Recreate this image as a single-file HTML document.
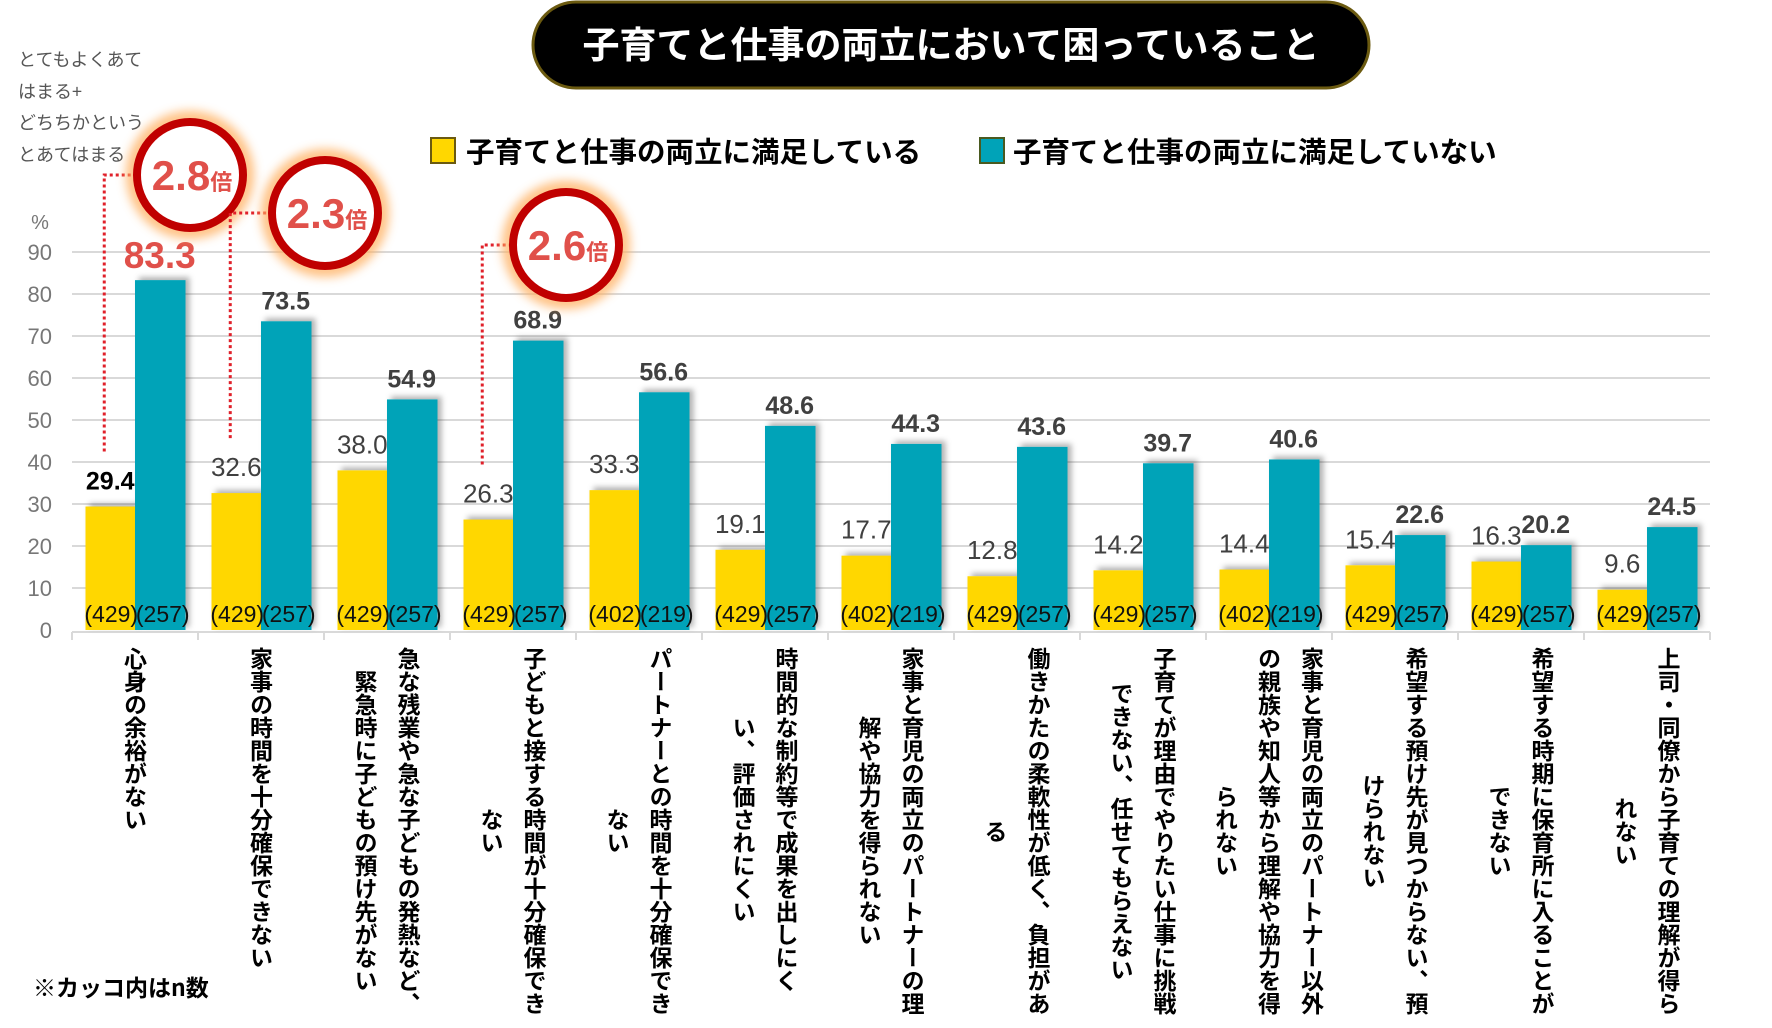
<!DOCTYPE html>
<html><head><meta charset="utf-8">
<style>
html,body{margin:0;padding:0;background:#fff;}
body{width:1772px;height:1028px;position:relative;overflow:hidden;font-family:"Liberation Sans","Noto Sans CJK JP",sans-serif;}
.cat{position:absolute;top:647px;writing-mode:vertical-rl;font-family:"Noto Sans CJK JP",sans-serif;font-weight:bold;font-size:23px;line-height:43px;text-align:center;color:#000;white-space:nowrap;}
</style></head>
<body>
<svg id="chart" width="1772" height="1028" xmlns="http://www.w3.org/2000/svg" style="position:absolute;left:0;top:0">
<defs>
<filter id="sh" x="-20%" y="-20%" width="150%" height="130%"><feDropShadow dx="4" dy="-3" stdDeviation="3" flood-color="#000" flood-opacity="0.3"/></filter>
<filter id="glow" x="-40%" y="-40%" width="180%" height="180%"><feGaussianBlur stdDeviation="5"/></filter>
</defs>
<rect x="533" y="2" width="836" height="86" rx="43" fill="#000" stroke="#6b5a10" stroke-width="3"/>
<text x="951" y="58" text-anchor="middle" fill="#fff" font-family="Noto Sans CJK JP,sans-serif" font-weight="bold" font-size="37">子育てと仕事の両立において困っていること</text>
<g fill="#555" font-family="Noto Sans CJK JP,sans-serif" font-size="18">
<text x="18" y="66">とてもよくあて</text><text x="18" y="98">はまる+</text><text x="18" y="129">どちちかという</text><text x="18" y="161">とあてはまる</text>
</g>
<rect x="431" y="138" width="24" height="25" fill="#ffd700" stroke="#6b5a10" stroke-width="2"/>
<text x="466" y="162" font-family="Noto Sans CJK JP,sans-serif" font-weight="bold" font-size="28.5" fill="#000">子育てと仕事の両立に満足している</text>
<rect x="980" y="138" width="24" height="25" fill="#00a3b8" stroke="#4a5a20" stroke-width="2"/>
<text x="1013" y="162" font-family="Noto Sans CJK JP,sans-serif" font-weight="bold" font-size="28.5" fill="#000">子育てと仕事の両立に満足していない</text>
<text x="40" y="229" text-anchor="middle" fill="#777" font-size="20">%</text>
<g id="grid"></g><g id="bars"></g><g id="labels"></g><g id="annot"></g>
<text x="33" y="996" font-family="Noto Sans CJK JP,sans-serif" font-weight="bold" font-size="23" fill="#000">※カッコ内はn数</text>
</svg>
<div id="cats"></div>
<script>
const categories=[["心身の余裕がない"],["家事の時間を十分確保できない"],["急な残業や急な子どもの発熱など、","緊急時に子どもの預け先がない"],["子どもと接する時間が十分確保でき","ない"],["パートナーとの時間を十分確保でき","ない"],["時間的な制約等で成果を出しにく","い、評価されにくい"],["家事と育児の両立のパートナーの理","解や協力を得られない"],["働きかたの柔軟性が低く、負担があ","る"],["子育てが理由でやりたい仕事に挑戦","できない、任せてもらえない"],["家事と育児の両立のパートナー以外","の親族や知人等から理解や協力を得","られない"],["希望する預け先が見つからない、預","けられない"],["希望する時期に保育所に入ることが","できない"],["上司・同僚から子育ての理解が得ら","れない"]];
const satisfied=[29.4,32.6,38.0,26.3,33.3,19.1,17.7,12.8,14.2,14.4,15.4,16.3,9.6];
const unsatisfied=[83.3,73.5,54.9,68.9,56.6,48.6,44.3,43.6,39.7,40.6,22.6,20.2,24.5];
const nSatisfied=[429,429,429,429,402,429,402,429,429,402,429,429,429];
const nUnsatisfied=[257,257,257,257,219,257,219,257,257,219,257,257,257];
const yTicks=[0,10,20,30,40,50,60,70,80,90];
const ratioCats=[0,1,3];
const ratioLabels=["2.8","2.3","2.6"];

const X0=72,CW=126,Y0=630,PX=4.2,BW=49.5;
const y=v=>Y0-v*PX;
const cx=i=>X0+CW*i+CW/2;
const NS="http://www.w3.org/2000/svg";
function mk(tag,attrs,parent,txt){const e=document.createElementNS(NS,tag);for(const k in attrs)e.setAttribute(k,attrs[k]);if(txt!=null)e.textContent=txt;parent.appendChild(e);return e;}
const grid=document.getElementById('grid'),bars=document.getElementById('bars'),labels=document.getElementById('labels'),annot=document.getElementById('annot');
const XE=X0+CW*categories.length;
yTicks.forEach(t=>{
  if(t>0){const l=mk('line',{x1:X0,x2:XE,y1:y(t),y2:y(t),stroke:'#d9d9d9','stroke-width':2},grid);
  
  }
  const tx=mk('text',{x:52,y:y(t)+8,'text-anchor':'end',fill:'#777','font-size':22},grid,String(t));
  
  
});
const ax=mk('line',{x1:X0,x2:XE,y1:Y0+2,y2:Y0+2,stroke:'#d9d9d9','stroke-width':2},grid);


for(let i=0;i<=categories.length;i++){const t=mk('line',{x1:X0+CW*i,x2:X0+CW*i,y1:Y0+2,y2:Y0+10,stroke:'#d9d9d9','stroke-width':2},grid);

}
const cats=document.getElementById('cats');
categories.forEach((c,i)=>{
  const c0=cx(i);
  const b1=mk('rect',{x:c0-BW,y:y(satisfied[i]),width:BW,height:satisfied[i]*PX,fill:'#ffd700',filter:'url(#sh)'},bars);
  
  
  const b2=mk('rect',{x:c0,y:y(unsatisfied[i]),width:BW+1,height:unsatisfied[i]*PX,fill:'#00a3b8',filter:'url(#sh)'},bars);
  
  
  const l1=mk('text',{x:c0-BW/2,y:y(satisfied[i])-17,'text-anchor':'middle',fill:i==0?'#000':'#404040','font-size':i==0?25:26,'font-weight':i==0?'bold':'normal'},labels,satisfied[i].toFixed(1));
  
  
  const big=i==0;
  const l2=mk('text',{x:c0+BW/2,y:y(unsatisfied[i])-12,'text-anchor':'middle',fill:big?'#e0504a':'#404040','font-size':big?37:25,'font-weight':'bold'},labels,unsatisfied[i].toFixed(1));
  
  
  const n1=mk('text',{x:c0-BW/2+1,y:Y0-8,'text-anchor':'middle',fill:'#111','font-size':23},labels,'('+nSatisfied[i]+')');
  
  
  const n2=mk('text',{x:c0+BW/2+3,y:Y0-8,'text-anchor':'middle',fill:'#111','font-size':23},labels,'('+nUnsatisfied[i]+')');
  
  
  const d=document.createElement('div');
  d.className='cat';
  
  
  d.innerHTML=c.join('<br>');
  cats.appendChild(d);
  d.style.left=(c0-d.offsetWidth/2)+'px';
});
const circ=[[190,175],[325,213],[566,245]];
ratioCats.forEach((ci,k)=>{
  const [ccx,ccy]=circ[k];
  const lx=cx(ci)-BW/2-6;
  const g=mk('g',{},annot);
  
  
  const ly=y(satisfied[ci])-55;
  mk('path',{d:`M${lx},${ly} V${ccy} H${ccx-52}`,fill:'none',stroke:'#e0202a','stroke-width':3,'stroke-dasharray':'3 3'},g);
  mk('circle',{cx:ccx,cy:ccy,r:57,fill:'none',stroke:'#ffb060','stroke-width':14,opacity:0.8,filter:'url(#glow)'},g);
  mk('circle',{cx:ccx,cy:ccy,r:53,fill:'#fff',stroke:'#c00000','stroke-width':8},g);
  const t=mk('text',{x:ccx+2,y:ccy+15,'text-anchor':'middle',fill:'#e0504a','font-weight':'bold'},g);
  mk('tspan',{'font-size':42},t,ratioLabels[k]);
  mk('tspan',{'font-size':22,'font-family':'Noto Sans CJK JP,sans-serif'},t,'倍');
});
</script>
</body></html>
